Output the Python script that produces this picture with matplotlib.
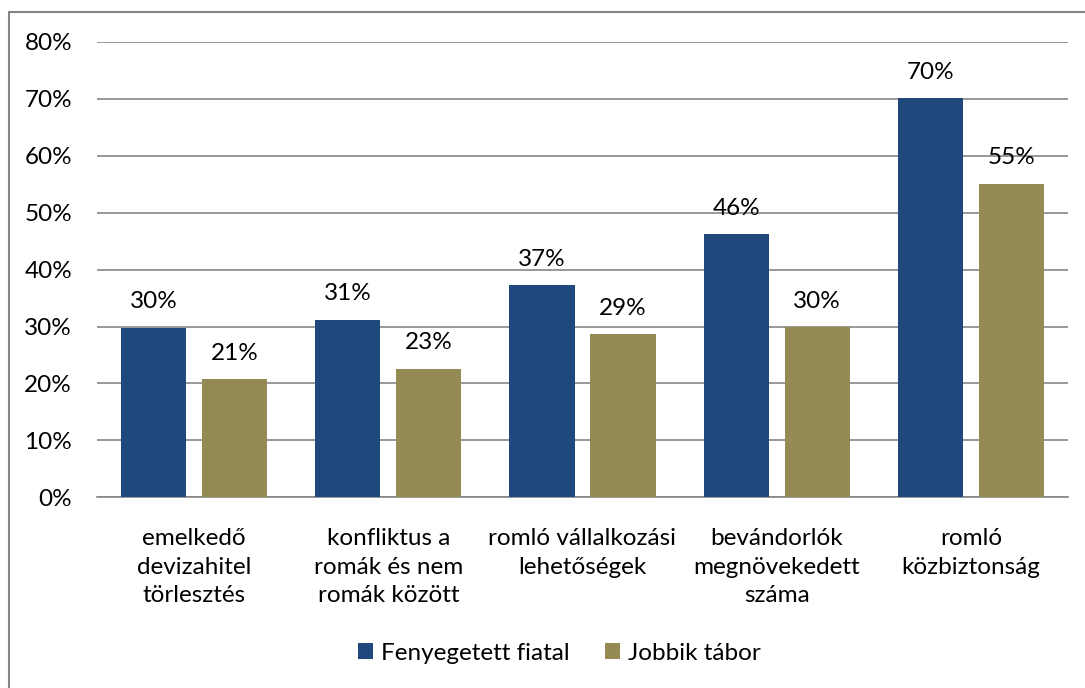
import matplotlib
matplotlib.use("Agg")
import matplotlib.pyplot as plt
import numpy as np
from matplotlib.patches import Rectangle

categories = ["emelkedő\ndevizahitel\ntörlesztés",
              "konfliktus a\nromák és nem\nromák között",
              "romló vállalkozási\nlehetőségek",
              "bevándorlók\nmegnövekedett\nszáma",
              "romló\nközbiztonság"]
series_names = ["Fenyegetett fiatal", "Jobbik tábor"]
fenyegetett = [29.8, 31.2, 37.3, 46.2, 70.1]
jobbik = [20.7, 22.6, 28.7, 29.9, 55.1]
yticks = [0, 10, 20, 30, 40, 50, 60, 70, 80]
ytick_labels = ["0%", "10%", "20%", "30%", "40%", "50%", "60%", "70%", "80%"]

plt.rcParams['font.family'] = ['Lato', 'DejaVu Sans']
BLUE = "#1F497D"
GOLD = "#948A54"
GRID = "#868686"
FS = 17.5

fig = plt.figure(figsize=(10.85, 6.88), dpi=100)
ax = fig.add_axes([97/1085, 1-497.3/688, (1068-97)/1085, (497.3-41.9)/688])

x = np.arange(len(categories))
w = 0.335
off = 0.2085
b1 = ax.bar(x - off, fenyegetett, w, color=BLUE, label=series_names[0], zorder=3)
b2 = ax.bar(x + off, jobbik, w, color=GOLD, label=series_names[1], zorder=3)

for bars, vals in ((b1, fenyegetett), (b2, jobbik)):
    for r, v in zip(bars, vals):
        ax.annotate(f"{round(v):d}%", (r.get_x() + r.get_width()/2, v),
                    xytext=(0, 11), textcoords="offset points",
                    ha="center", va="bottom", fontsize=FS, color="black", zorder=4)

ax.set_xlim(-0.5, len(categories) - 0.5)
ax.set_ylim(0, 80)
ax.set_yticks(yticks)
ax.set_yticklabels(ytick_labels, fontsize=FS)
ax.set_xticks(x)
ax.set_xticklabels(categories, fontsize=FS, linespacing=1.45, va="top")
ax.tick_params(axis="both", length=0)
ax.tick_params(axis="y", pad=18)
ax.tick_params(axis="x", pad=22)
ax.yaxis.grid(True, color=GRID, linewidth=1.2, zorder=0)
ax.set_axisbelow(True)
for s in ["top", "right", "left"]:
    ax.spines[s].set_visible(False)
ax.spines["bottom"].set_color(GRID)
ax.spines["bottom"].set_linewidth(1.2)

fig.legend(handles=[b1, b2], labels=series_names, loc="center",
           bbox_to_anchor=(559/1085, 1-653/688), ncol=2, frameon=False,
           fontsize=FS, handlelength=0.65, handleheight=0.65,
           handletextpad=0.3, columnspacing=1.45)

# outer chart border (left/top visible)
fig.patches.append(Rectangle((9/1085, -0.1), 1.2, 1 - 12/688 + 0.1,
                             transform=fig.transFigure, fill=False,
                             edgecolor="#868686", linewidth=1.5))

fig.savefig("out.png", dpi=100)
